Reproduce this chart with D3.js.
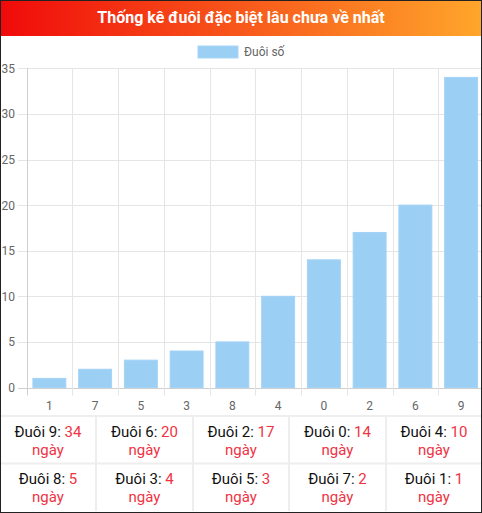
<!DOCTYPE html>
<html><head><meta charset="utf-8">
<script src="https://cdn.jsdelivr.net/npm/d3@7"></script>
<style>
html,body{margin:0;padding:0;background:#fff;}
svg{display:block;font-family:Roboto,"Noto Sans",sans-serif;}
</style></head>
<body>
<svg id="c" width="482" height="513"></svg>
<script>
const title = "Thống kê đuôi đặc biệt lâu chưa về nhất";
const legendLabel = "Đuôi số";
const categories = ["1","7","5","3","8","4","0","2","6","9"];
const values = [1,2,3,4,5,10,14,17,20,34];
const yTicks = [0,5,10,15,20,25,30,35];
const unit = "ngày";

(function(){
const W = 482, H = 513;
const svg = d3.select("#c");

const defs = svg.append("defs");
const g = defs.append("linearGradient").attr("id","hg").attr("x1","0").attr("x2","1");
g.append("stop").attr("offset","0").attr("stop-color","#f00a0a");
g.append("stop").attr("offset","1").attr("stop-color","#ffa62b");
defs.append("clipPath").attr("id","clip").append("rect").attr("x",1).attr("y",1).attr("width",W-2).attr("height",H-2);

svg.append("rect").attr("x",0).attr("y",0).attr("width",W).attr("height",36).attr("fill","url(#hg)");
svg.append("text").attr("x",W/2).attr("y",23).attr("text-anchor","middle")
  .attr("fill","#fff").attr("font-weight","bold").attr("font-size",16).text(title);

svg.append("rect").attr("x",198).attr("y",46).attr("width",40).attr("height",12)
  .attr("fill","#9ccff4").attr("stroke","#a8d6f7");
svg.append("text").attr("x",244).attr("y",56).attr("fill","#666").attr("font-size",12).text(legendLabel);

const plot = svg.append("g").attr("clip-path","url(#clip)");
const pLeft = 26.5, pRight = 484, pTop = 68.3, pBottom = 387.5;
const x = d3.scaleBand().domain(categories).range([pLeft,pRight]).paddingInner(0).paddingOuter(0);
const y = d3.scaleLinear().domain([0,35]).range([pBottom,pTop]);

plot.append("g").selectAll("line").data(yTicks).join("line")
  .attr("x1",18).attr("x2",pRight).attr("y1",d=>Math.round(y(d))+0.5).attr("y2",d=>Math.round(y(d))+0.5)
  .attr("stroke",d=>d===0?"#cfcfcf":"#e5e5e5");
svg.append("g").selectAll("text").data(yTicks).join("text")
  .attr("x",15).attr("y",d=>y(d)+4.5).attr("text-anchor","end").attr("fill","#666").attr("font-size",12).text(d=>d);

const bounds = categories.map(c=>x(c));
plot.append("g").selectAll("line").data(bounds).join("line")
  .attr("x1",d=>Math.round(d)+0.5).attr("x2",d=>Math.round(d)+0.5).attr("y1",pTop).attr("y2",pBottom+8)
  .attr("stroke",(d,i)=>i===0?"#cfcfcf":"#e5e5e5");

const bw = x.bandwidth()*0.72;
plot.append("g").selectAll("rect").data(values).join("rect")
  .attr("x",(d,i)=>x(categories[i])+(x.bandwidth()-bw)/2)
  .attr("width",bw)
  .attr("y",d=>y(d)).attr("height",d=>pBottom-y(d))
  .attr("fill","#9ccff4").attr("stroke","#a4d3f6").attr("stroke-width",1);

svg.append("g").selectAll("text").data(categories).join("text")
  .attr("x",d=>x(d)+x.bandwidth()/2).attr("y",410).attr("text-anchor","middle")
  .attr("fill","#666").attr("font-size",12).text(d=>d);

const order = categories.map((c,i)=>({c, v:values[i]})).sort((a,b)=>b.v-a.v);
const colX = [0,96,193,289,386,482];
const rowY = [416,463.5,511];
const tbl = svg.append("g");
tbl.append("line").attr("x1",0).attr("x2",W).attr("y1",416).attr("y2",416).attr("stroke","#eee").attr("stroke-width",2);
tbl.append("line").attr("x1",0).attr("x2",W).attr("y1",463.5).attr("y2",463.5).attr("stroke","#eee").attr("stroke-width",2);
colX.slice(1,5).forEach(cx=>{
  tbl.append("line").attr("x1",cx).attr("x2",cx).attr("y1",416).attr("y2",511).attr("stroke","#eee").attr("stroke-width",2);
});
order.forEach((o,i)=>{
  const r = Math.floor(i/5), c = i%5;
  const cx = (colX[c]+colX[c+1])/2;
  const by = rowY[r];
  const t = tbl.append("text").attr("x",cx).attr("y",by+20.5).attr("text-anchor","middle").attr("font-size",15);
  t.append("tspan").attr("fill","#111").text("Đuôi "+o.c+": ");
  t.append("tspan").attr("fill","#ef3344").text(o.v);
  tbl.append("text").attr("x",cx).attr("y",by+38.5).attr("text-anchor","middle").attr("font-size",15)
    .attr("fill","#ef3344").text(unit);
});

svg.append("rect").attr("x",0.5).attr("y",0.5).attr("width",W-1).attr("height",H-1)
  .attr("fill","none").attr("stroke","#222").attr("stroke-width",1);
})();
</script>
</body></html>
